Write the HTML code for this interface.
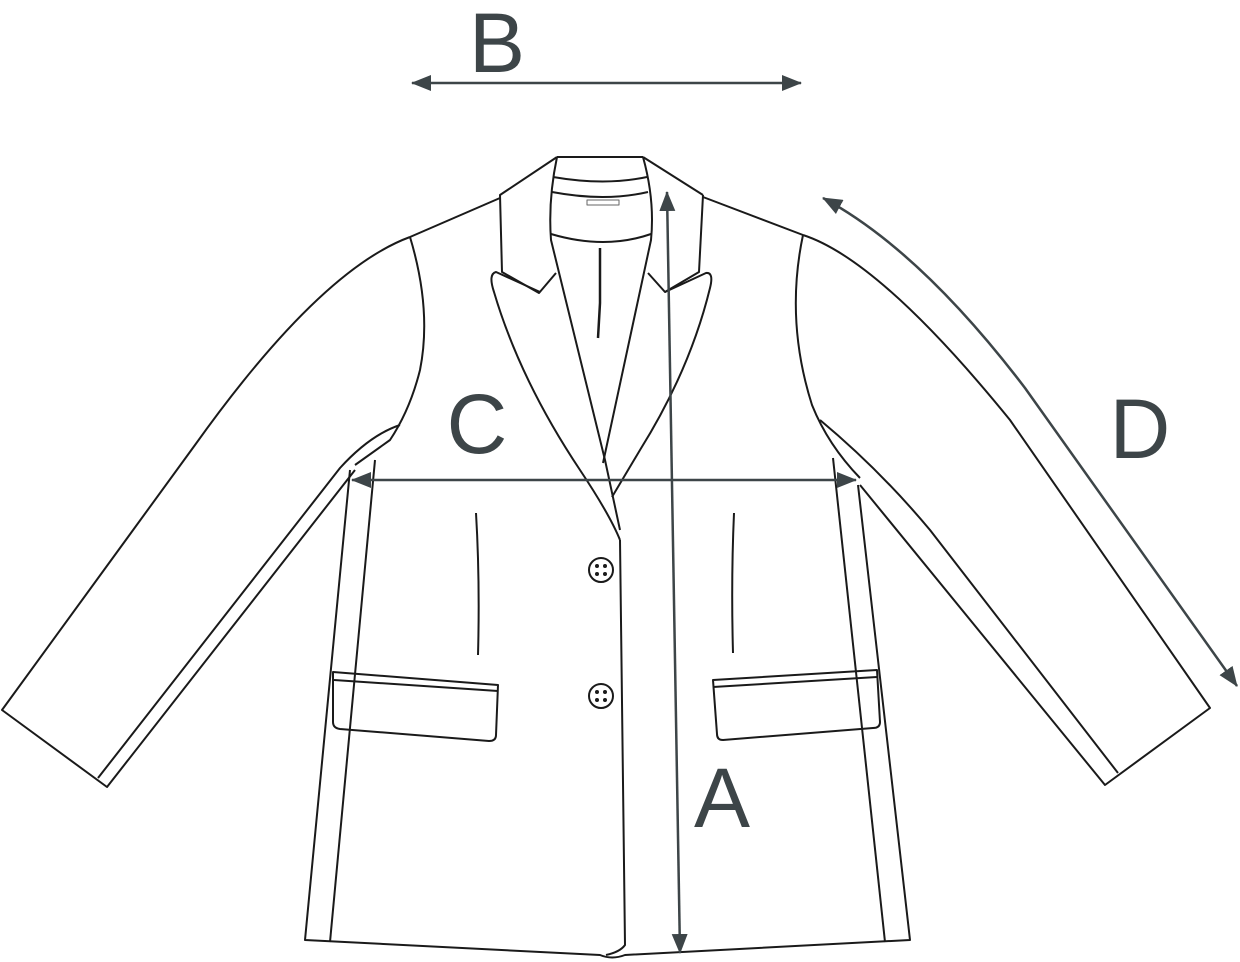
<!DOCTYPE html>
<html><head><style>
html,body{margin:0;padding:0;background:#fff;}
svg{display:block}
text{font-family:"Liberation Sans",sans-serif;fill:#3d4548;}
</style></head><body>
<svg width="1240" height="962" viewBox="0 0 1240 962">
<defs>
<marker id="ah" markerWidth="10" markerHeight="10" refX="9" refY="5" orient="auto" markerUnits="userSpaceOnUse" viewBox="0 0 10 10">
<path d="M0,0 L10,5 L0,10 z" fill="#3d4548" transform="scale(1)"/>
</marker>
<marker id="ab" markerWidth="20" markerHeight="16" refX="19" refY="8" orient="auto-start-reverse" markerUnits="userSpaceOnUse">
<path d="M0,0 L20,8 L0,16 z" fill="#3d4548"/>
</marker>
</defs>
<g fill="none" stroke="#1a1a1a" stroke-width="2" stroke-linejoin="round">
<!-- neck band -->
<path d="M557,157 L643,157"/>
<path d="M553,177 Q605,186 647,177"/>
<path d="M552,192 Q605,202 648,192"/>
<path d="M551,234 Q605,250 651,234"/>
<path d="M557,157 Q548,200 551,240 L605,460 L620,530"/>
<path d="M643,157 Q655,200 651,240 L603,463"/>
<rect x="587" y="200" width="32" height="5" stroke="#666" stroke-width="1"/>
<path d="M600,248 L600,303 L598,338" stroke-width="2.5"/>
<!-- collar left -->
<path d="M557,157 L500,195 L502,272 L539,293 L556,273"/>
<path d="M703,195 L643,157"/>
<path d="M703,195 L699,272 L665,292 L648,273"/>
<!-- lapels -->
<path d="M540,292 L496,272 Q488,274 494,292 Q520,380 580,470 Q610,515 620,540"/>
<path d="M665,292 L706,273 Q714,272 710,288 Q690,370 640,450 L612,497"/>
<!-- shoulders -->
<path d="M500,198 L410,237"/>
<path d="M703,197 L803,235"/>
<!-- left sleeve -->
<path d="M410,237 Q320,270 195,445 L2,710 L107,787 L355,470"/>
<path d="M98,778 L340,468 Q370,435 400,425"/>
<path d="M410,237 Q432,310 420,370 Q410,410 390,440 L355,465"/>
<!-- right sleeve -->
<path d="M803,235 Q880,260 1010,420 L1210,708 L1105,785 L860,485"/>
<path d="M1118,773 L930,530 Q880,470 820,420"/>
<path d="M803,235 Q785,320 812,405 Q828,445 860,478"/>
<!-- body sides -->
<path d="M350,470 L305,940 L600,955 Q612,960 625,955 L910,940 L858,485"/>
<path d="M375,460 L330,942"/>
<path d="M833,458 L885,942"/>
<!-- center front -->
<path d="M620,540 L625,945 Q620,952 606,955"/>
<!-- darts -->
<path d="M476,513 Q480,580 478,655"/>
<path d="M734,513 Q731,580 733,653"/>
<!-- pockets -->
<path d="M333,672 L498,685 L496,735 Q496,741 489,741 L340,729 Q333,728 333,722 Z"/>
<path d="M334,680 L498,691"/>
<path d="M713,680 L877,670 L880,722 Q880,728 873,728 L723,740 Q717,740 717,734 Z"/>
<path d="M713,687 L877,677"/>
<!-- buttons -->
<circle cx="601" cy="570" r="12"/>
<circle cx="601" cy="696" r="12"/>
</g>
<g fill="#1a1a1a">
<circle cx="597" cy="566" r="2"/><circle cx="605" cy="566" r="2"/><circle cx="597" cy="574" r="2"/><circle cx="605" cy="574" r="2"/>
<circle cx="597" cy="692" r="2"/><circle cx="605" cy="692" r="2"/><circle cx="597" cy="700" r="2"/><circle cx="605" cy="700" r="2"/>
</g>
<!-- measure arrows -->
<g fill="none" stroke="#3d4548" stroke-width="2.5">
<path d="M412,83 L801,83" marker-start="url(#ab)" marker-end="url(#ab)"/>
<path d="M352,480 L856,480" marker-start="url(#ab)" marker-end="url(#ab)"/>
<path d="M667,192 L680,953" marker-start="url(#ab)" marker-end="url(#ab)"/>
<path d="M823,198 Q920,250 1025,388 L1237,686" marker-start="url(#ab)" marker-end="url(#ab)"/>
</g>
<text x="497" y="72" font-size="84" text-anchor="middle">B</text>
<text x="477" y="453" font-size="84" text-anchor="middle">C</text>
<text x="722" y="827" font-size="84" text-anchor="middle">A</text>
<text x="1140" y="458" font-size="84" text-anchor="middle">D</text>
</svg>
</body></html>
